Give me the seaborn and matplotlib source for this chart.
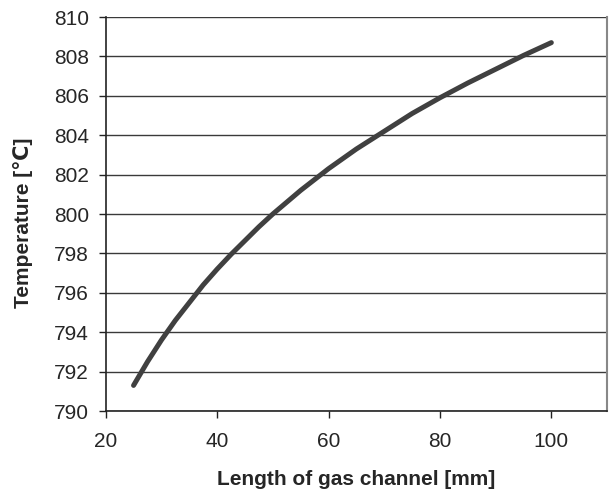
import matplotlib
matplotlib.use('Agg')
import matplotlib.pyplot as plt
import seaborn as sns
import pandas as pd

# values
length_mm = [25, 27.5, 30, 32.5, 35, 37.5, 40, 42.5, 45, 47.5, 50,
             55, 60, 65, 70, 75, 80, 85, 90, 95, 100]
temperature_c = [791.3, 792.5, 793.6, 794.6, 795.5, 796.4, 797.2, 797.95, 798.65, 799.35, 800.0,
                 801.2, 802.3, 803.3, 804.2, 805.1, 805.9, 806.65, 807.35, 808.05, 808.7]
x_ticks = [20, 40, 60, 80, 100]
y_ticks = [790, 792, 794, 796, 798, 800, 802, 804, 806, 808, 810]

df = pd.DataFrame({'length': length_mm, 'temp': temperature_c})

sns.set_style('white')
plt.rcParams['font.family'] = ['Liberation Sans', 'DejaVu Sans']

fig = plt.figure(figsize=(6.11, 4.92), dpi=100)
ax = fig.add_axes([0.173, 0.1646, 0.8205, 0.8008])

for y in y_ticks:
    ax.axhline(y, color='#3a3a3a', lw=1.0, zorder=1)

sns.lineplot(data=df, x='length', y='temp', ax=ax, color='#404040', lw=3.6,
             solid_capstyle='round', solid_joinstyle='round', zorder=3)

ax.set_xlim(20, 110)
ax.set_ylim(790, 810)
ax.set_xticks(x_ticks)
ax.set_yticks(y_ticks)
ax.tick_params(axis='both', direction='out', length=5, width=1, color='#222222',
               labelsize=15, left=True, bottom=True)
ax.tick_params(axis='y', pad=7)
ax.tick_params(axis='x', pad=10)

for side in ['left', 'bottom']:
    ax.spines[side].set_color('#222222')
    ax.spines[side].set_linewidth(1.2)
ax.spines['top'].set_visible(False)
ax.spines['right'].set_color('#888888')
ax.spines['right'].set_linewidth(1.5)

ax.set_xlabel('Length of gas channel [mm]', fontsize=15, fontweight='bold', labelpad=14)
ax.set_ylabel('Temperature [℃]', fontsize=15, fontweight='bold')
ax.yaxis.set_label_coords(-0.145, 0.478)

fig.savefig('out.png', dpi=100)
